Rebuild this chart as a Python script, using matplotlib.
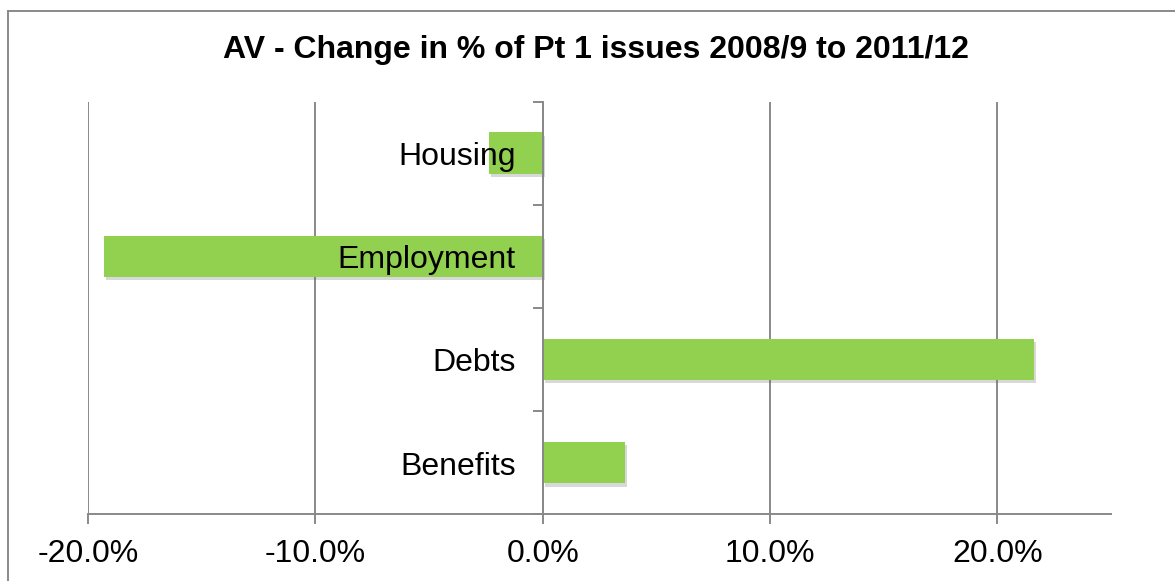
import matplotlib.pyplot as plt
import matplotlib.patheffects as pe
from matplotlib.lines import Line2D
from matplotlib.ticker import FuncFormatter

categories = ['Housing', 'Employment', 'Debts', 'Benefits']
change_pct = [-2.37, -19.28, 21.63, 3.62]
x_ticks = [-20, -10, 0, 10, 20]

plt.rcParams['font.family'] = ['Liberation Sans', 'DejaVu Sans']

fig = plt.figure(figsize=(11.75, 5.81), dpi=100)
ax = fig.add_axes([88 / 1175, 1 - 514 / 581, (1111 - 88) / 1175, (514 - 101.5) / 581])

grey = '#898989'
green = '#92D050'

ypos = list(range(len(categories)))
bars = ax.barh(ypos, change_pct, height=0.4, color=green, zorder=3)
for b in bars:
    b.set_path_effects([pe.SimplePatchShadow(offset=(1.5, -2.5), shadow_rgbFace='#666666', alpha=0.25),
                        pe.Normal()])

ax.set_ylim(len(categories) - 0.5, -0.5)
ax.set_xlim(-20, 25)

# vertical axis sits at zero with outward ticks between categories
ax.spines['left'].set_position(('data', 0))
ax.spines['left'].set_color(grey)
ax.spines['left'].set_linewidth(1.4)
ax.spines['left'].set_zorder(4)
ax.spines['bottom'].set_color(grey)
ax.spines['bottom'].set_linewidth(1.4)
ax.spines['top'].set_visible(False)
ax.spines['right'].set_visible(False)
ax.set_yticks([i - 0.5 for i in range(len(categories) + 1)])
ax.set_yticklabels([])
ax.tick_params(axis='y', direction='out', length=7, width=1.4, color=grey)

ax.set_xticks(x_ticks)
ax.xaxis.set_major_formatter(FuncFormatter(lambda v, p: f'{v:.1f}%'))
ax.tick_params(axis='x', direction='out', length=7, width=1.4, color=grey,
               labelsize=23, pad=11)
ax.grid(axis='x', color=grey, linewidth=1.4, zorder=0)

for y, name in zip(ypos, categories):
    ax.annotate(name, xy=(0, y), xytext=(-19.5, -3), textcoords='offset points',
                ha='right', va='center', fontsize=23, zorder=5)

fig.text(596 / 1175, 1 - 50 / 581, 'AV - Change in % of Pt 1 issues 2008/9 to 2011/12',
         ha='center', va='center', fontsize=23, fontweight='bold')

# chart frame
fig.add_artist(Line2D([7.5 / 1175, 7.5 / 1175], [0, 1 - 11 / 581], transform=fig.transFigure,
                      color=grey, linewidth=1.4))
fig.add_artist(Line2D([7.5 / 1175, 1], [1 - 11 / 581, 1 - 11 / 581], transform=fig.transFigure,
                      color=grey, linewidth=1.4))

fig.savefig('out.png', dpi=100)
